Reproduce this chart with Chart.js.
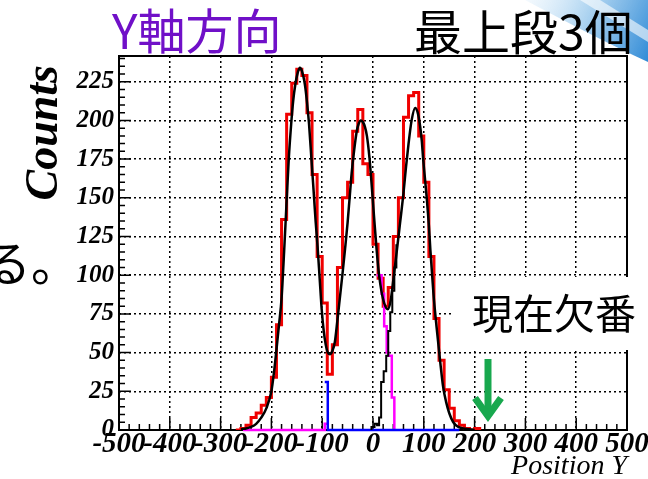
<!DOCTYPE html>
<html lang="ja">
<head>
<meta charset="UTF-8">
<title>Position Y</title>
<script src="https://cdn.jsdelivr.net/npm/chart.js@4"></script>
<style>
  html, body { margin: 0; padding: 0; background: #fff; }
  canvas { display: block; }
</style>
</head>
<body>
<canvas id="myChart" width="648" height="479"></canvas>
<script>
// red histogram: bin low edges (width 10) and counts
const redEdges = [-270, -260, -250, -240, -230, -220, -210, -200, -190, -180,
  -170, -160, -150, -140, -130, -120, -110, -100, -90, -80,
  -70, -60, -50, -40, -30, -20, -10, 0, 10, 20,
  30, 40, 50, 60, 70, 80, 90, 100, 110, 120,
  130, 140, 150, 160, 170, 180, 190, 200, 210];
const redCounts = [0, 1, 3, 8, 11, 16, 21, 34, 68, 136,
  204, 224, 233, 229, 205, 165, 112, 82, 36, 55,
  105, 150, 160, 193, 207, 172, 165, 120, 98, 80,
  92, 125, 150, 202, 216, 218, 190, 160, 112, 72,
  45, 26, 14, 6, 3, 1, 0, 1, 0];

// fit curve
const fitX = [-260, -250, -240, -230, -220, -210, -200, -195, -190, -185, -180, -175, -170, -166, -161, -157, -153, -148, -144, -140,
  -134, -130, -126, -121, -117, -113, -109, -105, -101, -97, -93, -89, -85, -80, -75, -70, -65, -60, -55, -50,
  -46, -42, -37, -32, -28, -24, -20, -16, -12, -7, -3, 2, 7, 12, 17, 22, 29, 35, 40, 47,
  53, 60, 65, 70, 76, 83, 88, 92, 96, 99, 103, 106, 110, 113, 119, 125, 132, 138, 144, 150, 158, 168, 178, 200];
const fitY = [0.5, 1, 2, 4, 8, 14, 25, 37, 52, 68, 85, 115, 148, 174, 198, 213, 223, 231, 234, 232,
  223, 212, 198, 174, 155, 135, 118, 98, 78, 64, 55, 50, 49, 51, 57, 71, 86, 101, 117, 134,
  150, 166, 181, 193, 198, 200, 199, 196, 190, 176, 160, 138, 117, 100, 89, 82, 78, 84, 97, 116,
  133, 153, 170, 185, 200, 208, 205, 198, 187, 174, 160, 149, 132, 116, 88, 67, 45, 28, 18, 11, 5, 2, 1, 0];

// component histograms (only the parts not hidden by the red one)
const blueX = [-95, -89, 170];
const blueY = [31, 0, 0];
const magentaX = [-256, -95, -90, -89, 7, 17, 22, 27, 30, 37, 42];
const magentaY = [0, 4, 4, null, 100, 88, 67, 50, 48, 21, 0];
const blackHistX = [-3, -3, 3, 8, 12, 16, 21, 26, 30, 34, 38, 42, 46];
const blackHistY = [0, 2, 4, 3, 8, 31, 38, 48, 64, 76, 90, 105, 120];

const xTicks = [-500, -400, -300, -200, -100, 0, 100, 200, 300, 400, 500];
const yTicks = [0, 25, 50, 75, 100, 125, 150, 175, 200, 225];

function pts(xs, ys) {
  return xs.map((x, i) => ({ x: x, y: ys[i] }));
}

const serif = 'Liberation Serif';

const overlay = {
  id: 'overlay',
  beforeDatasetsDraw(chart) {
    const { ctx, chartArea: a, scales } = chart;
    const sx = scales.x, sy = scales.y;
    ctx.save();
    // frame
    ctx.strokeStyle = '#000';
    ctx.lineWidth = 2;
    ctx.strokeRect(a.left, a.top, a.right - a.left, a.bottom - a.top);

    // inward ticks
    ctx.lineWidth = 1.5;
    ctx.beginPath();
    for (let v = 0; v <= 240; v += 5) {
      const py = sy.getPixelForValue(v);
      const len = v % 25 === 0 ? 12 : 6;
      ctx.moveTo(a.left, py);
      ctx.lineTo(a.left + len, py);
    }
    for (let v = -500; v <= 500; v += 20) {
      const px = sx.getPixelForValue(v);
      const len = v % 100 === 0 ? 12 : 6;
      ctx.moveTo(px, a.bottom);
      ctx.lineTo(px, a.bottom - len);
    }
    ctx.stroke();
    ctx.restore();
  },
  afterDraw(chart) {
    const { ctx } = chart;
    ctx.save();

    // blue decoration in the top right corner
    const g = ctx.createLinearGradient(520, 0, 648, 60);
    g.addColorStop(0, 'rgba(215,235,250,0.2)');
    g.addColorStop(0.45, 'rgba(170,210,240,0.9)');
    g.addColorStop(1, 'rgba(50,140,215,1)');
    ctx.fillStyle = g;
    ctx.beginPath();
    ctx.moveTo(525, 0);
    ctx.lineTo(648, 0);
    ctx.lineTo(648, 62);
    ctx.quadraticCurveTo(600, 40, 525, 0);
    ctx.fill();
    ctx.fillStyle = 'rgba(255,255,255,0.6)';
    ctx.beginPath();
    ctx.moveTo(580, 0);
    ctx.lineTo(600, 0);
    ctx.lineTo(648, 30);
    ctx.lineTo(648, 42);
    ctx.closePath();
    ctx.fill();
    // frame corner back on top of the decoration
    ctx.strokeStyle = '#000';
    ctx.lineWidth = 2;
    ctx.beginPath();
    ctx.moveTo(560, chart.chartArea.top);
    ctx.lineTo(chart.chartArea.right, chart.chartArea.top);
    ctx.lineTo(chart.chartArea.right, 80);
    ctx.stroke();

    // y axis title
    ctx.save();
    ctx.translate(57, 65);
    ctx.rotate(-Math.PI / 2);
    ctx.font = 'italic bold 46px "' + serif + '"';
    ctx.fillStyle = '#000';
    ctx.textAlign = 'right';
    ctx.textBaseline = 'alphabetic';
    ctx.fillText('Counts', 0, 0);
    ctx.restore();

    // white box and label
    ctx.fillStyle = '#fff';
    ctx.fillRect(451, 277, 197, 73);
    ctx.fillStyle = '#000';
    ctx.textAlign = 'left';
    ctx.textBaseline = 'alphabetic';
    ctx.font = '41px "Noto Sans CJK JP"';
    ctx.fillText('現在欠番', 472, 329);

    // green arrow
    ctx.strokeStyle = '#18a84e';
    ctx.lineWidth = 7;
    ctx.lineCap = 'butt';
    ctx.lineJoin = 'miter';
    ctx.beginPath();
    ctx.moveTo(488, 359);
    ctx.lineTo(488, 414);
    ctx.stroke();
    ctx.beginPath();
    ctx.moveTo(475, 398);
    ctx.lineTo(488, 416);
    ctx.lineTo(501, 398);
    ctx.stroke();

    // texts above the frame
    ctx.font = '48px "Noto Sans CJK JP"';
    ctx.fillStyle = '#7010c8';
    ctx.fillText('Y軸方向', 112, 49);
    ctx.fillStyle = '#000';
    ctx.fillText('最上段3個', 414, 50);
    ctx.fillText('る。', -17, 281);

    ctx.restore();
  }
};

const ctx = document.getElementById('myChart').getContext('2d');
const myChart = new Chart(ctx, {
  type: 'scatter',
  data: {
    datasets: [
      {
        label: 'fit',
        data: pts(fitX, fitY),
        showLine: true,
        borderColor: '#000',
        borderWidth: 2.5,
        pointRadius: 0,
        cubicInterpolationMode: 'monotone',
        order: 0
      },
      {
        label: 'black',
        data: pts(blackHistX, blackHistY),
        showLine: true,
        stepped: true,
        borderColor: '#000',
        borderWidth: 2,
        pointRadius: 0,
        order: 1
      },
      {
        label: 'blue',
        data: pts(blueX, blueY),
        showLine: true,
        stepped: true,
        borderColor: '#0000ff',
        borderWidth: 2.5,
        pointRadius: 0,
        clip: 3,
        order: 2
      },
      {
        label: 'magenta',
        data: pts(magentaX, magentaY),
        showLine: true,
        stepped: true,
        spanGaps: false,
        borderColor: '#ff00ff',
        borderWidth: 2.5,
        pointRadius: 0,
        clip: 3,
        order: 3
      },
      {
        label: 'data',
        data: pts(redEdges, redCounts),
        showLine: true,
        stepped: true,
        borderColor: '#f00000',
        borderWidth: 3,
        borderJoinStyle: 'miter',
        pointRadius: 0,
        order: 4
      }
    ]
  },
  options: {
    responsive: false,
    animation: false,
    layout: { padding: { top: 56, right: 21, left: 0, bottom: 0 } },
    plugins: {
      legend: { display: false },
      tooltip: { enabled: false }
    },
    scales: {
      x: {
        type: 'linear',
        min: -500,
        max: 500,
        afterBuildTicks: s => { s.ticks = xTicks.map(v => ({ value: v })); },
        afterFit: s => { s.height = 49; },
        ticks: {
          autoSkip: false,
          maxRotation: 0,
          padding: -1,
          color: '#000',
          font: { family: serif, size: 29, weight: 'bold', style: 'italic', lineHeight: 1.1 },
          callback: v => String(v)
        },
        grid: { color: '#000', lineWidth: 1.5, drawTicks: false },
        border: { display: false, dash: [2, 3] },
        title: {
          display: true,
          text: 'Position Y',
          align: 'end',
          color: '#000',
          font: { family: serif, size: 28, style: 'italic', lineHeight: 0.9 },
          padding: { top: 0, bottom: 0 }
        }
      },
      y: {
        min: 0,
        max: 241.6,
        afterBuildTicks: s => { s.ticks = yTicks.map(v => ({ value: v })); },
        afterFit: s => { s.width = 119; },
        ticks: {
          padding: 5,
          color: '#000',
          font: { family: serif, size: 25, weight: 'bold', style: 'italic' },
          callback: v => String(v)
        },
        grid: { color: '#000', lineWidth: 1.5, drawTicks: false },
        border: { display: false, dash: [2, 3] }
      }
    }
  },
  plugins: [overlay]
});
</script>
</body>
</html>
